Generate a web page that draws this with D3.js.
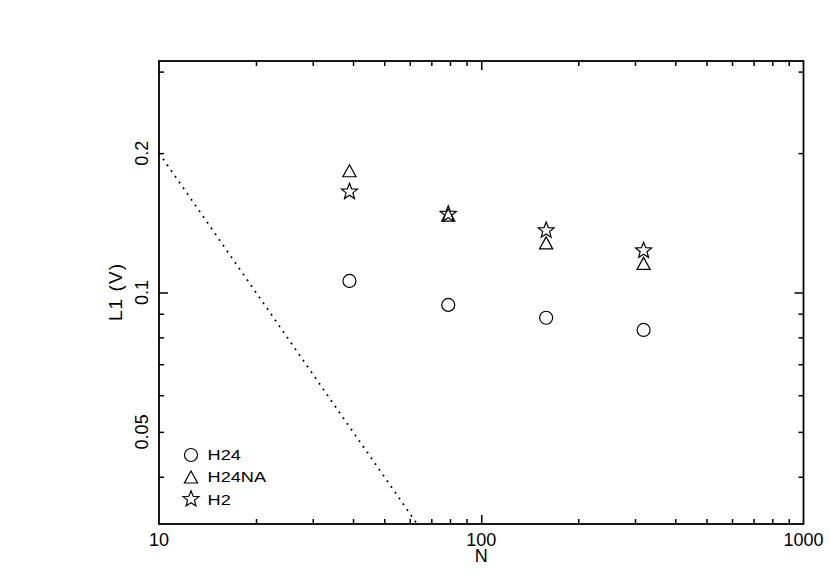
<!DOCTYPE html>
<html>
<head>
<meta charset="utf-8">
<script src="https://cdn.jsdelivr.net/npm/d3@7/dist/d3.min.js"></script>
<style>
  html, body { margin: 0; padding: 0; background: #fff; }
  text { font-family: "Liberation Sans", Arial, Helvetica, sans-serif; fill: #000; }
</style>
</head>
<body>
<svg id="chart" width="830" height="585"></svg>
<script>
// ---- data ----
const N = [39, 79, 159, 319];
const H24 = [0.1059, 0.0940, 0.0882, 0.0830];
const H24NA = [0.1832, 0.1470, 0.1280, 0.1156];
const H2 = [0.1644, 0.1471, 0.1356, 0.1227];
const refN = [10, 100];
const refV = [0.2, 0.02];
const seriesNames = ["H24", "H24NA", "H2"];
const xTickLabels = [10, 100, 1000];
const yTickLabels = [0.05, 0.1, 0.2];
const xMinorTicks = [20, 30, 40, 50, 60, 70, 80, 90, 200, 300, 400, 500, 600, 700, 800, 900];
const xMajorTicks = [100];
const yMinorTicks = [0.04, 0.05, 0.06, 0.07, 0.08, 0.09, 0.2, 0.3];
const yMajorTicks = [0.1];

// ---- layout ----
const L = 159, R = 803.5, T = 61, B = 524;
const svg = d3.select("#chart");
const x = d3.scaleLog().domain([10, 1000]).range([L, R]);
const y = d3.scaleLog().domain([Math.pow(10, -1.5), Math.pow(10, -0.5)]).range([B, T]);

svg.append("defs").append("clipPath").attr("id", "clip")
  .append("rect").attr("x", L).attr("y", T).attr("width", R - L).attr("height", B - T);

// ---- ticks via d3 axes (pointing inward) ----
function styleAxis(g) {
  g.select(".domain").remove();
  g.selectAll(".tick line").attr("stroke", "#000").attr("stroke-width", 1.5);
  g.selectAll(".tick text").remove();
}
const minorLen = 5, majorLen = 9;
svg.append("g").attr("transform", `translate(0,${B})`)
  .call(d3.axisBottom(x).tickValues(xMinorTicks).tickSize(-minorLen)).call(styleAxis);
svg.append("g").attr("transform", `translate(0,${B})`)
  .call(d3.axisBottom(x).tickValues(xMajorTicks).tickSize(-majorLen)).call(styleAxis);
svg.append("g").attr("transform", `translate(0,${T})`)
  .call(d3.axisTop(x).tickValues(xMinorTicks).tickSize(-minorLen)).call(styleAxis);
svg.append("g").attr("transform", `translate(0,${T})`)
  .call(d3.axisTop(x).tickValues(xMajorTicks).tickSize(-majorLen)).call(styleAxis);
svg.append("g").attr("transform", `translate(${L},0)`)
  .call(d3.axisLeft(y).tickValues(yMinorTicks).tickSize(-minorLen)).call(styleAxis);
svg.append("g").attr("transform", `translate(${L},0)`)
  .call(d3.axisLeft(y).tickValues(yMajorTicks).tickSize(-majorLen)).call(styleAxis);
svg.append("g").attr("transform", `translate(${R},0)`)
  .call(d3.axisRight(y).tickValues(yMinorTicks).tickSize(-minorLen)).call(styleAxis);
svg.append("g").attr("transform", `translate(${R},0)`)
  .call(d3.axisRight(y).tickValues(yMajorTicks).tickSize(-majorLen)).call(styleAxis);

// frame
svg.append("rect").attr("x", L).attr("y", T).attr("width", R - L).attr("height", B - T)
  .attr("fill", "none").attr("stroke", "#000").attr("stroke-width", 1.8);

// tick labels
svg.selectAll(".xl").data(xTickLabels).enter().append("text")
  .attr("x", d => x(d)).attr("y", 545.5).attr("text-anchor", "middle")
  .attr("font-size", 18).text(d => d);
svg.selectAll(".yl").data(yTickLabels).enter().append("text")
  .attr("transform", d => `translate(147.5,${y(d)}) rotate(-90)`)
  .attr("text-anchor", "middle").attr("font-size", 18).text(d => d);

// axis titles
svg.append("text").attr("x", x(100)).attr("y", 562).attr("text-anchor", "middle")
  .attr("font-size", 18).text("N");
svg.append("text").attr("transform", `translate(122,${(T + B) / 2}) rotate(-90)`)
  .attr("text-anchor", "middle").attr("font-size", 19)
  .attr("textLength", 57).attr("lengthAdjust", "spacing").text("L1 (V)");

// reference dotted line
svg.append("path")
  .datum(refN.map((n, i) => [n, refV[i]]))
  .attr("clip-path", "url(#clip)")
  .attr("d", d3.line().x(d => x(d[0])).y(d => y(d[1])))
  .attr("fill", "none").attr("stroke", "#000").attr("stroke-width", 1.8)
  .attr("stroke-dasharray", "1.8,5.2");

// ---- marker shapes ----
function circlePath(r) { const p = d3.path(); p.arc(0, 0, r, 0, 2 * Math.PI); p.closePath(); return p.toString(); }
function trianglePath() { return "M0,-6L6.6,6L-6.6,6Z"; }
function starPath(r, ri) {
  const pts = [];
  for (let i = 0; i < 10; i++) {
    const a = -Math.PI / 2 + i * Math.PI / 5;
    const rr = i % 2 === 0 ? r : ri;
    pts.push([rr * Math.cos(a), rr * Math.sin(a)]);
  }
  return "M" + pts.map(p => p[0].toFixed(2) + "," + p[1].toFixed(2)).join("L") + "Z";
}
const shapes = {
  H24: circlePath(6.5),
  H24NA: trianglePath(),
  H2: starPath(8.4, 3.6)
};
const seriesData = { H24: H24, H24NA: H24NA, H2: H2 };
const starOffset = { H24: 0, H24NA: 0, H2: 0.8 };

seriesNames.forEach(name => {
  svg.append("g").selectAll("path").data(N.map((n, i) => [n, seriesData[name][i]]))
    .enter().append("path")
    .attr("transform", d => `translate(${x(d[0])},${y(d[1]) - starOffset[name]})`)
    .attr("d", shapes[name])
    .attr("fill", "none").attr("stroke", "#000").attr("stroke-width", 1.2);
});

// ---- legend ----
const legY = [455, 477, 500];
seriesNames.forEach((name, i) => {
  svg.append("path")
    .attr("transform", `translate(191,${legY[i] - starOffset[name]})`)
    .attr("d", shapes[name]).attr("fill", "none").attr("stroke", "#000").attr("stroke-width", 1.2);
  svg.append("text")
    .attr("transform", `translate(207.5,${legY[i] + 5}) scale(1.3,1)`)
    .attr("font-size", 14).text(name);
});
</script>
</body>
</html>
